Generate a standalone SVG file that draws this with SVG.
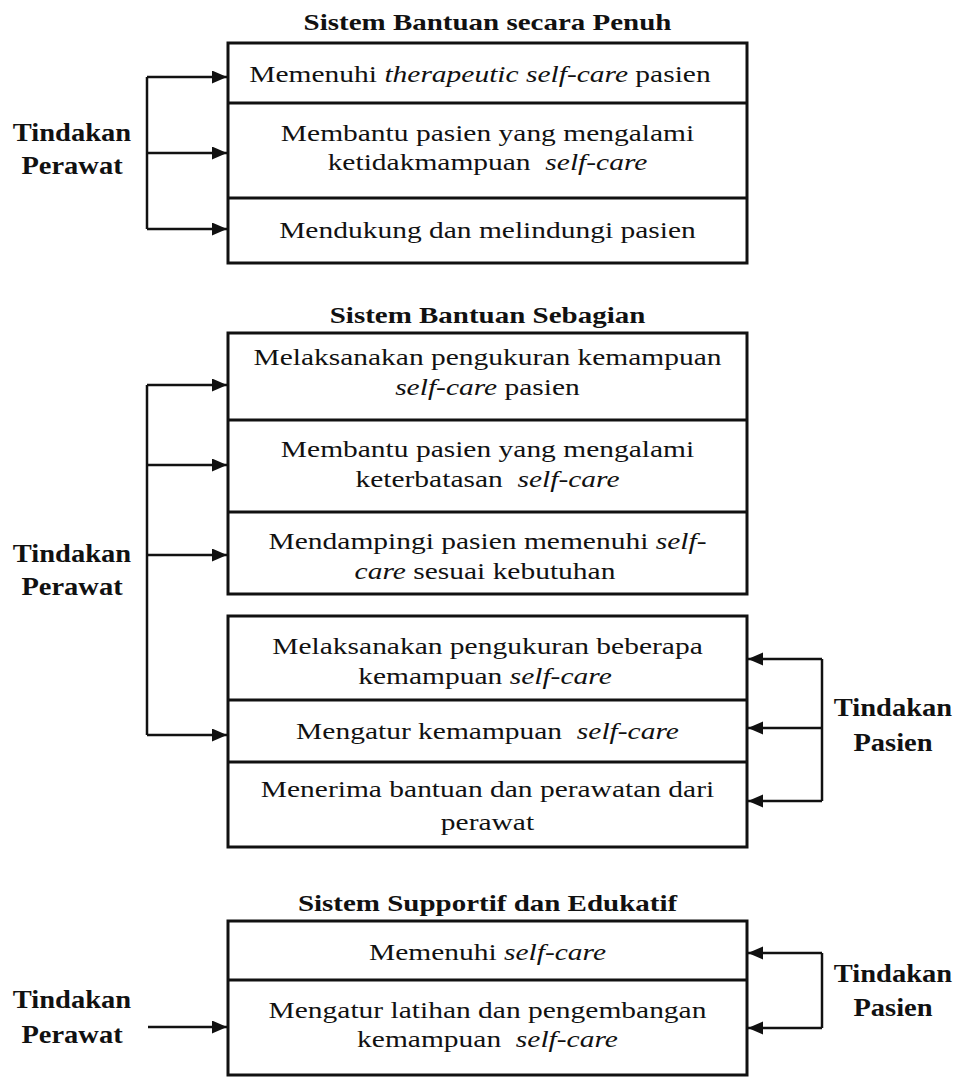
<svg xmlns="http://www.w3.org/2000/svg" width="956" height="1079" viewBox="0 0 956 1079">
<style>
text { font-family: "Liberation Serif", "Times New Roman", serif; fill: #111; text-anchor: middle; }
.t { font-size: 22.5px; }
.h { font-size: 23px; font-weight: bold; }
.lbl { font-size: 25px; font-weight: bold; }
.i { font-style: italic; }
.pre { white-space: pre; }
.box { fill: #fff; stroke: #111; stroke-width: 3; }
.div { stroke: #111; stroke-width: 3; }
.c { fill: none; stroke: #111; stroke-width: 2.5; }
</style>
<defs>
<marker id="ah" markerUnits="userSpaceOnUse" markerWidth="16" markerHeight="14" refX="15" refY="6.5" orient="auto">
<path d="M0,0 L15,6.5 L0,13 z" fill="#111"/>
</marker>
</defs>
<rect width="956" height="1079" fill="#fff"/>

<!-- Section 1 -->
<g id="title1"><text class="h" transform="translate(487.5,30) scale(1.26,1)">Sistem Bantuan secara Penuh</text></g>
<g id="box1">
<rect class="box" x="228" y="43" width="519" height="220"/>
<line class="div" x1="228" y1="103" x2="747" y2="103"/>
<line class="div" x1="228" y1="198" x2="747" y2="198"/>
</g>
<g id="s1r1"><text class="t" transform="translate(480,82) scale(1.31,1)">Memenuhi <tspan class="i">therapeutic self-care</tspan> pasien</text></g>
<g id="s1r2">
<text class="t" transform="translate(487.5,141) scale(1.31,1)">Membantu pasien yang mengalami</text>
<text class="t pre" transform="translate(487.5,170) scale(1.31,1)">ketidakmampuan  <tspan class="i">self-care</tspan></text>
</g>
<g id="s1r3"><text class="t" transform="translate(487.5,238) scale(1.31,1)">Mendukung dan melindungi pasien</text></g>
<g id="lbl1">
<text class="lbl" transform="translate(72,141) scale(1.14,1)">Tindakan</text>
<text class="lbl" transform="translate(72,174) scale(1.14,1)">Perawat</text>
</g>

<!-- Section 2 -->
<g id="title2"><text class="h" transform="translate(487.5,323) scale(1.26,1)">Sistem Bantuan Sebagian</text></g>
<g id="box2a">
<rect class="box" x="228" y="333" width="519" height="261"/>
<line class="div" x1="228" y1="420" x2="747" y2="420"/>
<line class="div" x1="228" y1="512" x2="747" y2="512"/>
</g>
<g id="s2r1">
<text class="t" transform="translate(487.5,365) scale(1.31,1)">Melaksanakan pengukuran kemampuan</text>
<text class="t" transform="translate(487.5,395) scale(1.31,1)"><tspan class="i">self-care</tspan> pasien</text>
</g>
<g id="s2r2">
<text class="t" transform="translate(487.5,457) scale(1.31,1)">Membantu pasien yang mengalami</text>
<text class="t pre" transform="translate(487.5,487) scale(1.31,1)">keterbatasan  <tspan class="i">self-care</tspan></text>
</g>
<g id="s2r3">
<text class="t" transform="translate(487.5,549) scale(1.31,1)">Mendampingi pasien memenuhi <tspan class="i">self-</tspan></text>
<text class="t" transform="translate(485,579) scale(1.31,1)"><tspan class="i">care</tspan> sesuai kebutuhan</text>
</g>
<g id="box2b">
<rect class="box" x="228" y="616" width="519" height="231"/>
<line class="div" x1="228" y1="700" x2="747" y2="700"/>
<line class="div" x1="228" y1="762" x2="747" y2="762"/>
</g>
<g id="s2r4">
<text class="t" transform="translate(487.5,654) scale(1.31,1)">Melaksanakan pengukuran beberapa</text>
<text class="t" transform="translate(485,684) scale(1.31,1)">kemampuan <tspan class="i">self-care</tspan></text>
</g>
<g id="s2r5"><text class="t pre" transform="translate(487.5,739) scale(1.31,1)">Mengatur kemampuan  <tspan class="i">self-care</tspan></text></g>
<g id="s2r6">
<text class="t" transform="translate(487.5,797) scale(1.31,1)">Menerima bantuan dan perawatan dari</text>
<text class="t" transform="translate(487.5,830) scale(1.31,1)">perawat</text>
</g>
<g id="lbl2">
<text class="lbl" transform="translate(72,562) scale(1.14,1)">Tindakan</text>
<text class="lbl" transform="translate(72,595) scale(1.14,1)">Perawat</text>
</g>
<g id="lbl3">
<text class="lbl" transform="translate(893,716) scale(1.14,1)">Tindakan</text>
<text class="lbl" transform="translate(893,751) scale(1.14,1)">Pasien</text>
</g>

<!-- Section 3 -->
<g id="title3"><text class="h" transform="translate(487.5,911) scale(1.26,1)">Sistem Supportif dan Edukatif</text></g>
<g id="box3">
<rect class="box" x="228" y="921" width="519" height="154"/>
<line class="div" x1="228" y1="980" x2="747" y2="980"/>
</g>
<g id="s3r1"><text class="t" transform="translate(487.5,960) scale(1.31,1)">Memenuhi <tspan class="i">self-care</tspan></text></g>
<g id="s3r2">
<text class="t" transform="translate(487.5,1018) scale(1.31,1)">Mengatur latihan dan pengembangan</text>
<text class="t pre" transform="translate(487.5,1047) scale(1.31,1)">kemampuan  <tspan class="i">self-care</tspan></text>
</g>
<g id="lbl4">
<text class="lbl" transform="translate(72,1008) scale(1.14,1)">Tindakan</text>
<text class="lbl" transform="translate(72,1043) scale(1.14,1)">Perawat</text>
</g>
<g id="lbl5">
<text class="lbl" transform="translate(893,982) scale(1.14,1)">Tindakan</text>
<text class="lbl" transform="translate(893,1016) scale(1.14,1)">Pasien</text>
</g>

<!-- Connectors -->
<g id="connectors">
<path class="c" d="M147,77 V229"/>
<path class="c" d="M147,77 H227" marker-end="url(#ah)"/>
<path class="c" d="M147,153 H227" marker-end="url(#ah)"/>
<path class="c" d="M147,229 H227" marker-end="url(#ah)"/>

<path class="c" d="M147,385 V735"/>
<path class="c" d="M147,385 H227" marker-end="url(#ah)"/>
<path class="c" d="M147,465 H227" marker-end="url(#ah)"/>
<path class="c" d="M147,555 H227" marker-end="url(#ah)"/>
<path class="c" d="M147,735 H227" marker-end="url(#ah)"/>

<path class="c" d="M822,659 V801"/>
<path class="c" d="M822,659 H748" marker-end="url(#ah)"/>
<path class="c" d="M822,728 H748" marker-end="url(#ah)"/>
<path class="c" d="M822,801 H748" marker-end="url(#ah)"/>

<path class="c" d="M148,1027 H227" marker-end="url(#ah)"/>
<path class="c" d="M822,953 V1028"/>
<path class="c" d="M822,953 H748" marker-end="url(#ah)"/>
<path class="c" d="M822,1028 H748" marker-end="url(#ah)"/>
</g>
</svg>
